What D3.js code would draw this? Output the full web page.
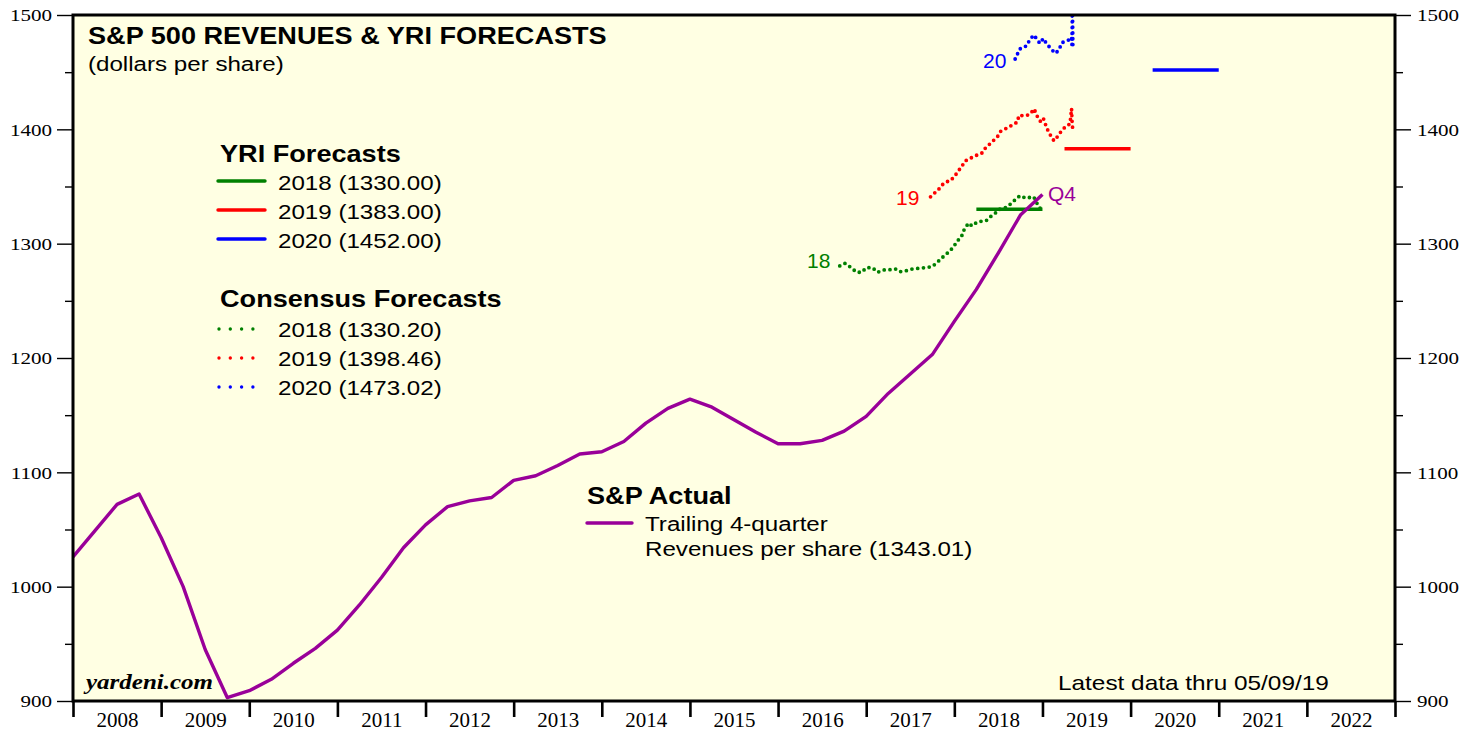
<!DOCTYPE html>
<html>
<head>
<meta charset="utf-8">
<script src="https://cdn.jsdelivr.net/npm/d3@7"></script>
<style>
  html, body { margin: 0; padding: 0; background: #ffffff; }
  svg { display: block; }
</style>
</head>
<body>
<svg id="chart" width="1476" height="734"></svg>
<script>
// ---------------- DATA ----------------
const yearLabels = ["2008","2009","2010","2011","2012","2013","2014","2015","2016","2017","2018","2019","2020","2021","2022"];
const yTickValues = [900, 1000, 1100, 1200, 1300, 1400, 1500];
const yMinorTicks = [950, 1050, 1150, 1250, 1350, 1450];

// S&P actual: trailing 4-quarter revenues per share (plotted at quarter end)
const actualQuarters = ["2007Q4",
  "2008Q1","2008Q2","2008Q3","2008Q4","2009Q1","2009Q2","2009Q3","2009Q4",
  "2010Q1","2010Q2","2010Q3","2010Q4","2011Q1","2011Q2","2011Q3","2011Q4",
  "2012Q1","2012Q2","2012Q3","2012Q4","2013Q1","2013Q2","2013Q3","2013Q4",
  "2014Q1","2014Q2","2014Q3","2014Q4","2015Q1","2015Q2","2015Q3","2015Q4",
  "2016Q1","2016Q2","2016Q3","2016Q4","2017Q1","2017Q2","2017Q3","2017Q4",
  "2018Q1","2018Q2","2018Q3","2018Q4"];
const actualValues = [1026,
  1049,1072,1081,1043,1000,945,903,909,
  919,933,946,962,984,1008,1034,1054,
  1070,1075,1078,1093,1097,1106,1116,1118,
  1127,1143,1156,1164,1157,1146,1135,1125,
  1125,1128,1136,1149,1169,1186,1203,1232,
  1260,1292,1325,1343.01];

// YRI forecasts (annual, horizontal bars)
const yriYears  = ["2018","2019","2020"];
const yriValues = [1330.00, 1383.00, 1452.00];
const yriStart  = [2018.25, 2019.25, 2020.25];
const yriEnd    = [2019.00, 2020.00, 2021.00];

// Consensus forecasts (weekly, plotted as dotted lines)
const cons2018Dates = [2016.70,2016.76,2016.83,2016.89,2016.95,2017.00,2017.07,2017.13,2017.20,2017.25,2017.33,2017.38,2017.44,2017.53,2017.60,2017.67,2017.75,2017.81,2017.88,2017.94,2017.99,2018.03,2018.08,2018.11,2018.16,2018.20,2018.26,2018.31,2018.36,2018.41,2018.47,2018.51,2018.57,2018.62,2018.67,2018.73,2018.75,2018.81,2018.86,2018.90,2018.94,2018.98];
const cons2018Values = [1280.5,1282.8,1279,1275,1275,1279,1279,1275,1277,1277,1278,1275.5,1276,1278,1278.5,1279,1280,1284,1289,1293,1297,1302,1306,1312,1318,1315.5,1319,1319.6,1320,1323.6,1327,1330,1331,1333.5,1337,1341,1342,1339.7,1340.5,1341,1335,1330.2];

const cons2019Dates = [2017.73,2017.78,2017.81,2017.86,2017.91,2017.95,2018.00,2018.04,2018.09,2018.12,2018.17,2018.19,2018.26,2018.31,2018.35,2018.41,2018.45,2018.49,2018.52,2018.57,2018.62,2018.66,2018.72,2018.73,2018.78,2018.82,2018.87,2018.90,2018.92,2018.95,2018.98,2019.01,2019.05,2019.09,2019.13,2019.17,2019.21,2019.26,2019.31,2019.32,2019.33,2019.335,2019.34,2019.345];
const cons2019Values = [1341,1344.6,1346.3,1351.3,1354.2,1354.8,1358.6,1363,1368.2,1372.3,1374,1375,1377.6,1379,1383.4,1387.8,1390.7,1393.6,1398,1400,1402.3,1403.8,1406.7,1412,1412,1412,1414,1417.9,1415.5,1409.7,1406.7,1409.7,1400.9,1395,1390,1393.6,1398,1402.3,1404.7,1410,1418,1408,1403,1398.46];

const cons2020Dates = [2018.69,2018.72,2018.74,2018.77,2018.82,2018.85,2018.90,2018.94,2018.97,2019.01,2019.04,2019.06,2019.10,2019.15,2019.19,2019.22,2019.27,2019.32,2019.33,2019.335,2019.34,2019.345];
const cons2020Values = [1461.5,1466.5,1470,1471.7,1472.9,1477.5,1482.5,1478.7,1475.2,1479.5,1475.7,1473.8,1470,1466.5,1470,1475.7,1477.5,1478.7,1480.4,1474,1512,1473.02];

const seriesColors = { g: "#008000", r: "#ff0000", b: "#0000ff", actual: "#990099" };

// ---------------- CHART ----------------
const svg = d3.select("#chart");
const PL = 73, PR = 1395, PT = 15, PB = 701;
const x = d3.scaleLinear().domain([2008, 2023]).range([PL, PR]);
const y = d3.scaleLinear().domain([900, 1500]).range([PB, PT]);

const SANS = "'Liberation Sans', Arial, Helvetica, sans-serif";
const SERIF = "'Liberation Serif', 'Times New Roman', serif";

function stext(g, px, py, str, o) {
  o = o || {};
  return g.append("text")
    .attr("transform", `translate(${px},${py}) scale(${o.sx || 1},1)`)
    .attr("font-family", o.family || SANS)
    .attr("font-size", o.size || 20)
    .attr("font-weight", o.weight || "normal")
    .attr("font-style", o.style || "normal")
    .attr("text-anchor", o.anchor || "start")
    .attr("fill", o.fill || "#000")
    .text(str);
}

// plot background
svg.append("rect").attr("x", PL).attr("y", PT).attr("width", PR - PL).attr("height", PB - PT)
  .attr("fill", "#ffffe3");

svg.append("clipPath").attr("id", "plotclip").append("rect")
  .attr("x", PL).attr("y", PT).attr("width", PR - PL).attr("height", PB - PT);

const plot = svg.append("g").attr("clip-path", "url(#plotclip)");

// YRI forecast bars
const yriColors = [seriesColors.g, seriesColors.r, seriesColors.b];
yriValues.forEach((v, i) => {
  plot.append("line")
    .attr("x1", x(yriStart[i])).attr("x2", x(yriEnd[i]))
    .attr("y1", y(v)).attr("y2", y(v))
    .attr("stroke", yriColors[i]).attr("stroke-width", 3.5);
});

// consensus dotted lines
const line = d3.line().x(d => x(d[0])).y(d => y(d[1]));
const consSets = [
  [cons2018Dates, cons2018Values, seriesColors.g],
  [cons2019Dates, cons2019Values, seriesColors.r],
  [cons2020Dates, cons2020Values, seriesColors.b]
];
consSets.forEach(([ds, vs, c]) => {
  plot.append("path")
    .attr("d", line(ds.map((d, i) => [d, vs[i]])))
    .attr("fill", "none").attr("stroke", c)
    .attr("stroke-width", 3.8).attr("stroke-linecap", "round")
    .attr("stroke-dasharray", "0 5.8");
});

// actual line
const actualDates = actualQuarters.map(q => +q.slice(0, 4) + (+q.slice(5)) / 4);
plot.append("path")
  .attr("d", line(actualDates.map((d, i) => [d, actualValues[i]])))
  .attr("fill", "none").attr("stroke", seriesColors.actual)
  .attr("stroke-width", 3.4).attr("stroke-linejoin", "round");

// series labels
stext(svg, 807, 268, "18", { size: 21, fill: seriesColors.g });
stext(svg, 896, 205, "19", { size: 21, fill: seriesColors.r });
stext(svg, 983, 68, "20", { size: 21, fill: seriesColors.b });
stext(svg, 1048, 201, "Q4", { size: 21, fill: seriesColors.actual });

// ---------------- AXES ----------------
const SXY = 1.24;
function styleYAxis(g, side) {
  g.select(".domain").remove();
  g.selectAll(".tick line").attr("stroke", "#000").attr("stroke-width", 1.4);
  g.selectAll(".tick text")
    .attr("font-family", SERIF).attr("font-size", 17).attr("fill", "#000")
    .attr("dy", "0.34em")
    .attr("x", side === "left" ? -21 / SXY : 22 / SXY)
    .attr("transform", `scale(${SXY},1)`);
}
const leftMajor = svg.append("g").attr("transform", `translate(${PL},0)`)
  .call(d3.axisLeft(y).tickValues(yTickValues).tickSize(16).tickFormat(d => String(d)));
styleYAxis(leftMajor, "left");
const leftMinor = svg.append("g").attr("transform", `translate(${PL},0)`)
  .call(d3.axisLeft(y).tickValues(yMinorTicks).tickSize(8).tickFormat(""));
styleYAxis(leftMinor, "left");
const rightMajor = svg.append("g").attr("transform", `translate(${PR},0)`)
  .call(d3.axisRight(y).tickValues(yTickValues).tickSize(16).tickFormat(d => String(d)));
styleYAxis(rightMajor, "right");
const rightMinor = svg.append("g").attr("transform", `translate(${PR},0)`)
  .call(d3.axisRight(y).tickValues(yMinorTicks).tickSize(8).tickFormat(""));
styleYAxis(rightMinor, "right");

// bottom year ticks + labels
const yearBounds = yearLabels.map(s => +s).concat([+yearLabels[yearLabels.length - 1] + 1]);
const bottomTicks = svg.append("g").attr("transform", `translate(0,${PB})`)
  .call(d3.axisBottom(x).tickValues(yearBounds).tickSize(16).tickFormat(""));
bottomTicks.select(".domain").remove();
bottomTicks.selectAll(".tick line").attr("stroke", "#000").attr("stroke-width", 2.6);

const bottomLabels = svg.append("g").attr("transform", `translate(0,${PB})`)
  .call(d3.axisBottom(x).tickValues(yearLabels.map(s => +s + 0.5)).tickSize(0)
    .tickFormat((d, i) => yearLabels[i]));
bottomLabels.select(".domain").remove();
bottomLabels.selectAll(".tick text")
  .attr("font-family", SERIF).attr("font-size", 21).attr("fill", "#000")
  .attr("y", 26).attr("dy", 0);

// frame
svg.append("rect").attr("x", PL).attr("y", PT).attr("width", PR - PL).attr("height", PB - PT)
  .attr("fill", "none").attr("stroke", "#000").attr("stroke-width", 3);

// ---------------- TEXT / LEGENDS ----------------
const SX = 1.13;
stext(svg, 88, 44, "S&P 500 REVENUES & YRI FORECASTS", { size: 24, weight: "bold", sx: SX });
stext(svg, 88, 71, "(dollars per share)", { size: 21, sx: 1.15 });

// YRI legend
stext(svg, 220, 162, "YRI Forecasts", { size: 24, weight: "bold", sx: SX });
const yriLegendY = [190, 219, 248];
yriYears.forEach((yr, i) => {
  svg.append("line").attr("x1", 218).attr("x2", 265)
    .attr("y1", yriLegendY[i] - 9).attr("y2", yriLegendY[i] - 9)
    .attr("stroke", yriColors[i]).attr("stroke-width", 3.4).attr("stroke-linecap", "round");
  stext(svg, 278, yriLegendY[i], `${yr} (${yriValues[i].toFixed(2)})`, { size: 21, sx: 1.15 });
});

// Consensus legend
stext(svg, 220, 307, "Consensus Forecasts", { size: 24, weight: "bold", sx: SX });
const consLegendY = [337, 366, 395];
const consFinal = [cons2018Values[cons2018Values.length - 1], cons2019Values[cons2019Values.length - 1], cons2020Values[cons2020Values.length - 1]];
consSets.forEach(([ds, vs, c], i) => {
  svg.append("line").attr("x1", 219).attr("x2", 254)
    .attr("y1", consLegendY[i] - 8).attr("y2", consLegendY[i] - 8)
    .attr("stroke", c).attr("stroke-width", 3.4).attr("stroke-linecap", "round")
    .attr("stroke-dasharray", "0 11.3");
  stext(svg, 278, consLegendY[i], `${yriYears[i]} (${consFinal[i].toFixed(2)})`, { size: 21, sx: 1.15 });
});

// S&P Actual legend
stext(svg, 587, 504, "S&P Actual", { size: 24, weight: "bold", sx: SX });
svg.append("line").attr("x1", 587).attr("x2", 632).attr("y1", 523).attr("y2", 523)
  .attr("stroke", seriesColors.actual).attr("stroke-width", 3.4).attr("stroke-linecap", "round");
stext(svg, 645, 531, "Trailing 4-quarter", { size: 21, sx: 1.15 });
stext(svg, 645, 556, `Revenues per share (${actualValues[actualValues.length - 1].toFixed(2)})`, { size: 21, sx: 1.15 });

// footer texts
stext(svg, 1058, 690, "Latest data thru 05/09/19", { size: 21, sx: 1.16 });
stext(svg, 86, 689, "yardeni.com", { size: 20, weight: "bold", style: "italic", family: SERIF, sx: 1.25 });
</script>
</body>
</html>
